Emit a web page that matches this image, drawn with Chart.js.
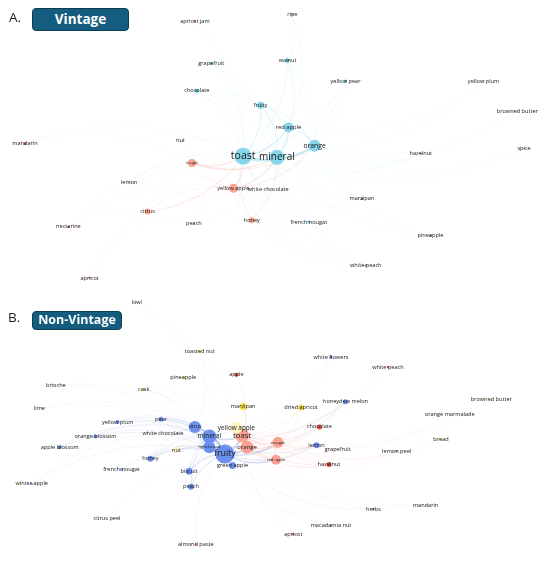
<!DOCTYPE html>
<html>
<head>
<meta charset="utf-8">
<script src="https://cdn.jsdelivr.net/npm/chart.js@4.4.1/dist/chart.umd.min.js"></script>
<style>
  body { margin: 0; background: #fff; }
  #wrap { position: relative; width: 550px; height: 562px; }
  #net { position: absolute; left: 0; top: 0; }
  .tag { position: absolute; font-family: "Open Sans", sans-serif; font-size: 13.5px; color: #222; }
  .box { position: absolute; background: #155d7e; border: 1.5px solid #0c3d54; border-radius: 4px;
         color: #fff; font-family: "Open Sans", sans-serif; font-weight: bold; text-align: center;
         box-sizing: border-box; }
</style>
</head>
<body>
<div id="wrap">
  <canvas id="net" width="550" height="562"></canvas>
  <div class="tag" style="left:9px;top:8px">A.</div>
  <div class="box" style="left:32px;top:8px;width:97px;height:23px;line-height:20px;font-size:13.5px">Vintage</div>
  <div class="tag" style="left:8px;top:308px">B.</div>
  <div class="box" style="left:32px;top:311px;width:90px;height:19px;line-height:16px;font-size:12.5px">Non-Vintage</div>
</div>
<script>
// ---- Vintage network (layout coordinates, node size, cluster) ----
const vintageNames = ["toast","mineral","orange","red apple","fruity","chocolate","walnut","grapefruit","yellow pear",
  "french nougat","ripe","nougat","yellow apple","honey","citrus","mandarin","nectarine","apricot","apricot jam",
  "nut","lemon","peach","white chocolate","marzipan","hazelnut","pineapple","white peach","yellow plum","browned butter","spice"];
const vintageX = [242,277,316,289,260,194,288,209,348,310,293,189,232,251,143,16,61,83,192,177,124,191,268,365,426,436,369,491,526,533];
const vintageY = [152,153,141,122,99,84,53,56,74,220,5,159,185,218,209,139,225,278,12,136,179,221,186,196,149,234,265,74,105,144];
const vintageSize = [8.5,7.5,6,5,3.5,2,2,1.5,1.5,1.5,1,4,4.5,3,3,1.2,1,1,1,0.8,0.8,0.8,0.8,1.2,1,1,1,0.8,0.8,0.8];
const vintageGroup = ["a","a","a","a","a","ad","ad","ad","ad","ad","ad","b","b","b","b","r","r","r","r",
  "t","t","t","t","k","t","k","k","t","t","t"];
const vintageLinks = {
  "toast": ["mineral","orange","red apple","fruity","walnut","chocolate","grapefruit","apricot jam","nut","french nougat",
            "hazelnut","white peach","mandarin","lemon","white chocolate","marzipan","yellow pear","ripe","honey","peach"],
  "mineral": ["orange","red apple","fruity","walnut","grapefruit","ripe","spice","marzipan","french nougat","white peach",
              "nut","yellow pear","hazelnut","browned butter","white chocolate","chocolate","pineapple"],
  "orange": ["red apple","yellow pear","yellow plum","browned butter","hazelnut","marzipan","pineapple","spice","white chocolate","fruity","walnut"],
  "red apple": ["fruity","yellow pear","walnut","chocolate","ripe","yellow plum"],
  "fruity": ["walnut","chocolate","grapefruit"],
  "nougat": ["toast","mineral","yellow apple","citrus","lemon","mandarin","nectarine","nut","orange"],
  "yellow apple": ["toast","mineral","orange","citrus","honey","peach","apricot","white chocolate","white peach","lemon","marzipan","nectarine","french nougat"],
  "citrus": ["nectarine","apricot","peach","toast","lemon"],
  "honey": ["marzipan","french nougat","mineral","white peach","peach"]
};

// ---- Non-Vintage network ----
const nonVintageNames = ["fruity","mineral","citrus","light bread","toast","orange","nougat","red apple","yellow apple",
  "green apple","biscuit","peach","honey","pear","lemon","honeydew melon","white flowers","yellow plum","orange blossom",
  "apple blossom","french nougat","winter apple","herbs","macadamia nut","lemon peel","marzipan","dried apricot","nut",
  "toasted nut","pineapple","cask","browned butter","bread","chocolate","hazelnut","apple","white peach","apricot",
  "almond paste","grapefruit","white chocolate","kiwi","brioche","lime","citrus peel","mandarin","orange marmalade"];
const nonVintageX = [223,207,192,207,241,246,278,276,235,231,186,188,146,157,318,348,333,112,89,52,116,23,377,333,401,
  242,302,173,197,180,139,499,447,321,331,235,392,294,193,340,159,132,48,31,101,431,456];
const nonVintageY = [460,442,432,453,441,453,448,466,433,472,478,494,465,424,451,406,360,427,442,453,476,491,517,534,457,
  411,412,456,354,381,393,404,445,432,471,378,370,543,554,455,439,303,389,413,527,513,419];
const nonVintageSize = [9.5,7,6,6,7,6.5,5.5,5,6,3.5,3.5,3,3,2.5,3,2.5,1.5,2,2,2,1.5,1.2,1.2,1,1,3.5,3,3,1.5,1.5,1.5,
  1.2,1.2,2.5,2.5,2,1.2,1.2,1,0,0.8,0.5,0,0,0,0,0];
const nonVintageGroup = ["c","c","c","c","s","s","s","s","p","c","c","c","c","c","c","c","c","c","c","c","c","c","c","c",
  "c","y","y","p","y","y","y","y","y","rd","rd","rd","rd","rd","rd","g","p","g","g","g","g","g","g"];
const nonVintageLinks = {
  "fruity": ["mineral","citrus","light bread","toast","orange","green apple","biscuit","peach","honey","pear","yellow plum",
             "orange blossom","apple blossom","french nougat","winter apple","citrus peel","white chocolate","nut","lemon",
             "herbs","macadamia nut","almond paste","honeydew melon","lime","brioche","kiwi","nougat","red apple"],
  "mineral": ["citrus","light bread","toast","pear","honey","biscuit","yellow plum","orange blossom","apple blossom","lime",
              "white chocolate","lemon","white flowers","honeydew melon","cask","peach","winter apple"],
  "citrus": ["light bread","pear","yellow plum","honey","cask","orange blossom","brioche","white chocolate","toasted nut"],
  "light bread": ["biscuit","green apple","honey","french nougat","peach"],
  "toast": ["orange","nougat","red apple","chocolate","hazelnut","grapefruit","lemon","apple","white peach","dried apricot",
            "marzipan","honeydew melon","lemon peel","bread","browned butter","orange marmalade","mandarin","apricot","herbs"],
  "orange": ["nougat","red apple","hazelnut","grapefruit","chocolate","lemon peel","macadamia nut","apricot","mandarin","white flowers","white peach"],
  "nougat": ["red apple","chocolate","lemon","grapefruit","hazelnut","dried apricot","orange marmalade","bread"],
  "red apple": ["hazelnut","grapefruit","herbs","macadamia nut","apricot","lemon peel"],
  "yellow apple": ["marzipan","pineapple","toasted nut","cask","apple","dried apricot","nut","browned butter","kiwi"]
};

// ---- styles ----
const groupColor = {
  a: "#88d6ea", ad: "#4fbfdc", b: "#f8a592", r: "#d9412f", t: "#c9a46a", k: "#6d5a40",
  c: "#6b90ef", s: "#f9a294", p: "#fff2c2", y: "#f2de4c", rd: "#e0503e", g: "#999999"
};
const edgeColor = {
  a: "134,214,234", b: "248,165,147", c: "140,158,222", s: "249,163,149", p: "236,218,120"
};
const labelFont = {
  vintage: { "toast": 10.5, "mineral": 10, "orange": 6.8, "red apple": 5.8, "nougat": 3.6 },
  nonVintage: { "fruity": 8.8, "mineral": 6.6, "toast": 7.8, "yellow apple": 6.4, "orange": 6.1, "citrus": 5,
                "light bread": 4.3, "nougat": 4.2, "red apple": 4.2 }
};

function buildNodes(names, xs, ys, sizes, groups) {
  return names.map((n, i) => ({ x: xs[i], y: ys[i], r: sizes[i], name: n, group: groups[i] }));
}

const panels = [
  { key: "vintage", nodes: buildNodes(vintageNames, vintageX, vintageY, vintageSize, vintageGroup), links: vintageLinks },
  { key: "nonVintage", nodes: buildNodes(nonVintageNames, nonVintageX, nonVintageY, nonVintageSize, nonVintageGroup), links: nonVintageLinks }
];

const edgePlugin = {
  id: "edges",
  beforeDatasetsDraw(chart) {
    const ctx = chart.ctx, xs = chart.scales.x, ys = chart.scales.y;
    ctx.save();
    for (const panel of panels) {
      const byName = {};
      for (const nd of panel.nodes) byName[nd.name] = nd;
      for (const hub in panel.links) {
        const a = byName[hub];
        for (const other of panel.links[hub]) {
          const b = byName[other];
          const ax = xs.getPixelForValue(a.x), ay = ys.getPixelForValue(a.y);
          const bx = xs.getPixelForValue(b.x), by = ys.getPixelForValue(b.y);
          const dx = bx - ax, dy = by - ay;
          const prod = a.r * Math.max(b.r, 0.8);
          const alpha = Math.min(0.5, 0.06 + 0.006 * prod);
          ctx.strokeStyle = `rgba(${edgeColor[a.group]},${alpha})`;
          ctx.lineWidth = Math.min(2, 0.5 + 0.02 * prod);
          ctx.beginPath();
          ctx.moveTo(ax, ay);
          ctx.quadraticCurveTo((ax + bx) / 2 - dy * 0.22, (ay + by) / 2 + dx * 0.22, bx, by);
          ctx.stroke();
        }
      }
    }
    ctx.restore();
  }
};

const labelPlugin = {
  id: "nodeLabels",
  afterDatasetsDraw(chart) {
    const ctx = chart.ctx;
    ctx.save();
    ctx.textAlign = "center";
    ctx.textBaseline = "middle";
    ctx.fillStyle = "#161616";
    chart.data.datasets.forEach((ds, di) => {
      const meta = chart.getDatasetMeta(di);
      const fonts = labelFont[panels[di].key];
      meta.data.forEach((pt, i) => {
        const name = ds.data[i].name;
        const size = fonts[name] || 5.6;
        ctx.font = `${size}px "Open Sans", sans-serif`;
        ctx.fillText(name, pt.x, pt.y);
      });
    });
    ctx.restore();
  }
};

new Chart("net", {
  type: "bubble",
  data: {
    datasets: panels.map(p => ({
      label: p.key,
      data: p.nodes,
      backgroundColor: p.nodes.map(n => groupColor[n.group]),
      borderWidth: 0,
      clip: false
    }))
  },
  options: {
    responsive: false,
    animation: false,
    layout: { padding: 0 },
    scales: {
      x: { type: "linear", min: 0, max: 550, display: false },
      y: { type: "linear", min: 0, max: 562, reverse: true, display: false }
    },
    plugins: {
      legend: { display: false },
      tooltip: { enabled: false }
    }
  },
  plugins: [edgePlugin, labelPlugin]
});
</script>
</body>
</html>
